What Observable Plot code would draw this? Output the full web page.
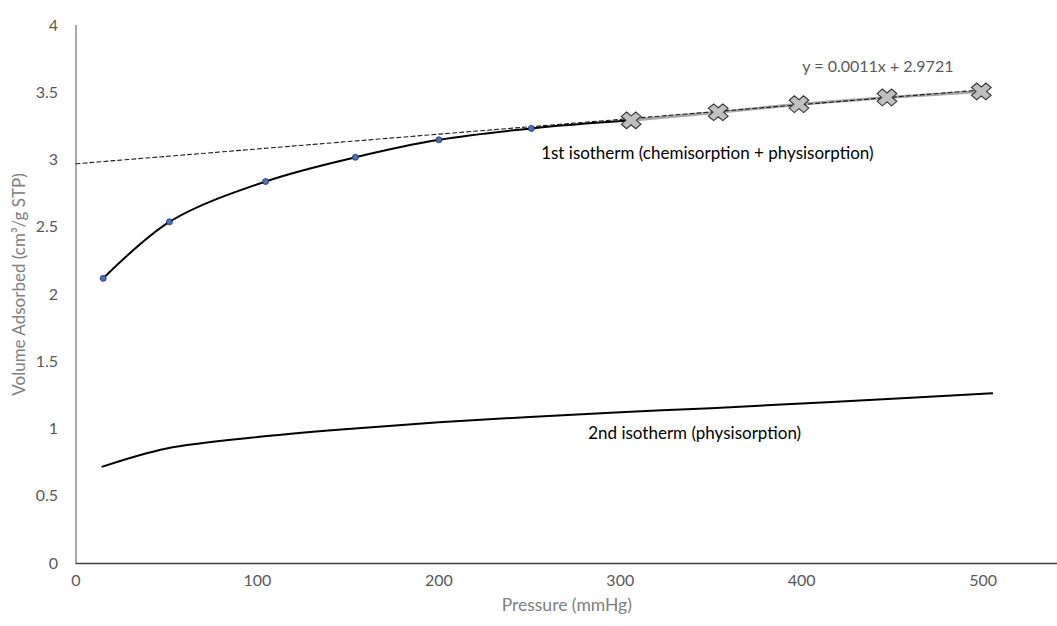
<!DOCTYPE html>
<html>
<head>
<meta charset="utf-8">
<script src="https://cdn.jsdelivr.net/npm/d3@7"></script>
<script src="https://cdn.jsdelivr.net/npm/@observablehq/plot@0.6"></script>
<style>
  html, body { margin: 0; padding: 0; background: #fff; }
  #chart { width: 1057px; height: 626px; }
</style>
</head>
<body>
<div id="chart"></div>
<script>
// 1st isotherm (chemisorption + physisorption), low-pressure part (blue dots)
const iso1Pressure = [15, 51.5, 104.5, 154, 200, 251, 306];
const iso1Volume   = [2.12, 2.54, 2.84, 3.02, 3.15, 3.235, 3.295];
// 1st isotherm, linear part used for the fit (X markers)
const fitPressure = [306, 354, 398.5, 447, 499];
const fitVolume   = [3.295, 3.355, 3.415, 3.465, 3.51];
// 2nd isotherm (physisorption)
const iso2Pressure = [14.6, 50, 100, 150, 200, 250, 300, 350, 400, 450, 505];
const iso2Volume   = [0.72, 0.855, 0.94, 1.0, 1.05, 1.09, 1.125, 1.155, 1.19, 1.225, 1.265];
// Linear trendline y = 0.0011x + 2.9721, drawn from 0 to 500
const trendPressure = [0, 500];
const trendVolume   = [2.9721, 3.5221];
// Axis ticks
const xTicks = [0, 100, 200, 300, 400, 500];
const yTicks = [0, 0.5, 1, 1.5, 2, 2.5, 3, 3.5, 4];
// Annotations
const labels = [
  {x: 348, y: 3.05, text: "1st isotherm (chemisorption + physisorption)", color: "#000000", size: 17},
  {x: 341, y: 0.967, text: "2nd isotherm (physisorption)", color: "#000000", size: 17},
  {x: 442, y: 3.695, text: "y = 0.0011x + 2.9721", color: "#595959", size: 16}
];

const iso1 = iso1Pressure.map((p, i) => ({p, v: iso1Volume[i]}));
const fit = fitPressure.map((p, i) => ({p, v: fitVolume[i]}));
const iso2 = iso2Pressure.map((p, i) => ({p, v: iso2Volume[i]}));
const trend = trendPressure.map((p, i) => ({p, v: trendVolume[i]}));

// Excel-like thick "X" marker
const crossSymbol = {
  draw(ctx, size) {
    const R = 8.5, t = 3.1;
    const pts = [[t,-R],[t,-t],[R,-t],[R,t],[t,t],[t,R],[-t,R],[-t,t],[-R,t],[-R,-t],[-t,-t],[-t,-R]]
      .map(([x, y]) => [(x - y) / Math.SQRT2 * 1.2, (x + y) / Math.SQRT2 * 1.02]);
    ctx.moveTo(pts[0][0], pts[0][1]);
    for (let i = 1; i < pts.length; i++) ctx.lineTo(pts[i][0], pts[i][1]);
    ctx.closePath();
  }
};

const font = "Lato, 'Open Sans', sans-serif";

const chart = Plot.plot({
  width: 1057,
  height: 626,
  marginLeft: 75.5,
  marginRight: 0,
  marginTop: 25,
  marginBottom: 63,
  style: {fontFamily: font, fontSize: "16px", color: "#595959", background: "#fff"},
  x: {domain: [0, 541], ticks: xTicks, tickSize: 0, tickPadding: 12, label: null},
  y: {domain: [0, 4], ticks: yTicks, tickSize: 0, tickPadding: 18, label: null},
  marks: [
    Plot.ruleX([0], {y1: 0, y2: 4, stroke: "#8c8c8c", strokeWidth: 1.5}),
    Plot.ruleY([0], {stroke: "#404040", strokeWidth: 1.5}),
    Plot.axisX({ticks: xTicks, tickSize: 0, tickPadding: 11, fill: "#595959", fontSize: 16, label: null}),
    Plot.axisY({ticks: yTicks, tickSize: 0, tickPadding: 18, fill: "#595959", fontSize: 16, label: null, tickFormat: d => String(d)}),
    Plot.line(fit, {x: "p", y: "v", stroke: "#a6a6a6", strokeWidth: 3}),
    Plot.line(trend, {x: "p", y: "v", stroke: "#1a1a1a", strokeWidth: 1.1, strokeDasharray: "4,3"}),
    Plot.line(iso1, {x: "p", y: "v", stroke: "#000", strokeWidth: 2, curve: "catmull-rom"}),
    Plot.line(iso2, {x: "p", y: "v", stroke: "#000", strokeWidth: 2, curve: "catmull-rom"}),
    Plot.dot(iso1.slice(0, 6), {x: "p", y: "v", r: 3, fill: "#4472c4", stroke: "#1f2f4f", strokeWidth: 0.8}),
    Plot.dot(fit, {x: "p", y: "v", r: 8, symbol: crossSymbol, fill: "#c0c0c0", stroke: "#333333", strokeWidth: 1.1}),
    Plot.text(labels, {x: "x", y: "y", text: "text", fill: "color", fontSize: "size", textAnchor: "middle"}),
    Plot.text(["Pressure (mmHg)"], {frameAnchor: "bottom", textAnchor: "middle", dy: 47, fill: "#808080", fontSize: 17.5}),
    Plot.text(["Volume Adsorbed (cm³/g STP)"], {frameAnchor: "left", textAnchor: "middle", dx: -56, dy: -10, rotate: -90, fill: "#808080", fontSize: 17})
  ]
});
document.getElementById("chart").appendChild(chart);
</script>
</body>
</html>
